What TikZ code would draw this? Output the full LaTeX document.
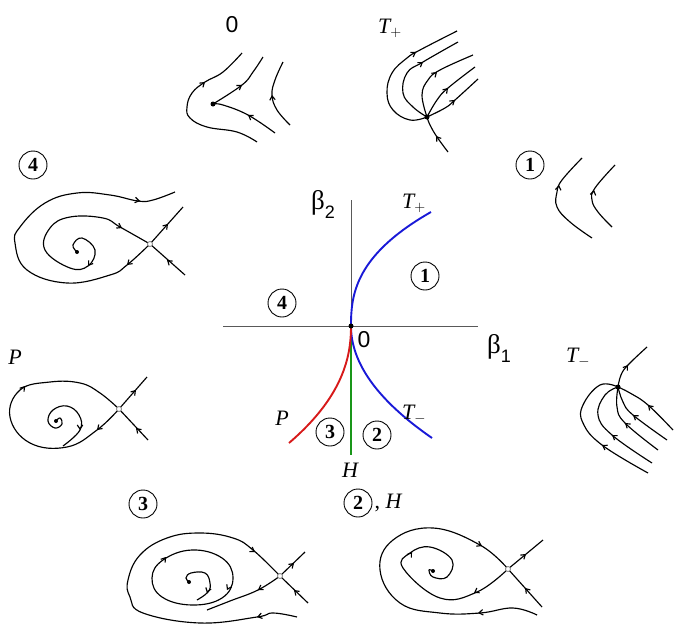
\documentclass[tikz,border=0pt]{standalone}
\usepackage{fontspec}
\setmainfont{Liberation Serif}
\newfontfamily\labfont{Liberation Sans}
\usetikzlibrary{arrows.meta, calc}

\definecolor{tblue}{RGB}{25,25,215}
\definecolor{pred}{RGB}{215,25,25}
\definecolor{hgreen}{RGB}{25,150,25}

% arrow tip at #1, coming from the direction of #2
\newcommand{\tipat}[2]{\draw[orbit, ->] ($(#1)!0.8pt!(#2)$) -- (#1);}
\newcommand{\betasub}[1]{β\raisebox{-9pt}{\labfont\fontsize{18}{18}\selectfont #1}}

\begin{document}
\begin{tikzpicture}[
        x=1pt, y=-1pt, tension=0.7,
        >={Straight Barb[length=4pt, width=5.5pt]},
        orbit/.style={line width=1.15pt, line join=round},
        dot/.style={circle, fill=black, inner sep=0pt, minimum size=5pt},
        saddle/.style={circle, draw=gray, fill=white, line width=0.8pt, inner sep=0pt, minimum size=5pt},
        axis/.style={draw=gray!70!black, line width=1pt},
        curve/.style={line width=1.9pt},
        region/.style={circle, draw, line width=0.9pt, inner sep=0pt, minimum size=28pt, font=\fontsize{20}{20}\selectfont\bfseries},
        lbl/.style={font=\fontsize{22}{22}\selectfont\itshape, inner sep=0pt},
        num/.style={font=\fontsize{23}{23}\selectfont\labfont, inner sep=0pt},
        greek/.style={font=\fontsize{27}{27}\selectfont, inner sep=0pt}
    ]
        \useasboundingbox (0,0) rectangle (675,627);

        % parameter plane
        \draw[axis] (223,326) -- (478,326);
        \draw[axis] (351,200) -- (351,326);
        \draw[hgreen, line width=1.2pt] (351,326) -- (351,455);
        \draw[tblue, curve] plot[domain=0:114, samples=40, variable=\t] ({351+80*(\t/114)^2.5}, {326-\t});
        \draw[tblue, curve] plot[domain=0:112, samples=40, variable=\t] ({351+81*(\t/112)^2}, {326+\t});
        \draw[pred, curve] plot[domain=0:117, samples=40, variable=\t] ({351-62*(\t/117)^2.2}, {326+\t});
        \node[dot] (origin) at (351,326) {};
        \node[greek] (b2) at (323,204) {\betasub{2}};
        \node[greek] (b1) at (499,348) {\betasub{1}};
        \node[num] (zero) at (364,340) {0};
        \node[lbl] (tp) at (414,203) {T$_+$};
        \node[lbl] (tm) at (414,414) {T$_-$};
        \node[lbl] (pl) at (282,418) {P};
        \node[lbl] (hl) at (350,470) {H};
        \node[region] (c1) at (425,276) {1};
        \node[region] (c4) at (282,303) {4};
        \node[region] (c3) at (330,432) {3};
        \node[region] (c2) at (377,435) {2};

        % portrait 0
        \node[num] (lab0) at (232,25) {0};
        \coordinate (n0) at (213,104);
        \draw[orbit] plot[smooth] coordinates {(257,142) (237,132) (207,127) (190,118) (187,107) (192,93) (205,82) (223,72) (242,53)};
        \draw[orbit] plot[smooth] coordinates {(n0) (242,85) (253,72) (263,57)};
        \draw[orbit] plot[smooth] coordinates {(275,133) (248,115) (223,105) (n0)};
        \draw[orbit] plot[smooth] coordinates {(290,125) (277,110) (272,95) (275,80) (283,62)};
        \tipat{205,82}{192,93}
        \tipat{242,85}{230,93}
        \tipat{248,115}{275,133}
        \tipat{272,95}{273,105}
        \node[dot] (d0) at (n0) {};

        % portrait T+
        \node[lbl] (labtp) at (390,28) {T$_+$};
        \coordinate (ntp) at (427,117);
        \draw[orbit] plot[smooth] coordinates {(ntp) (410,120) (393,110) (387,93) (392,73) (407,58) (420,50) (457,31)};
        \draw[orbit] plot[smooth] coordinates {(ntp) (413,107) (403,93) (407,73) (423,62) (458,42)};
        \draw[orbit] plot[smooth] coordinates {(ntp) (422,95) (428,80) (440,70) (473,55)};
        \draw[orbit] plot[smooth] coordinates {(ntp) (437,100) (448,88) (475,67)};
        \draw[orbit] plot[smooth] coordinates {(ntp) (445,108) (455,100) (478,79)};
        \draw[orbit] plot[smooth] coordinates {(448,152) (437,137) (430,125) (ntp)};
        \tipat{416,52}{405,59}
        \tipat{423,62}{407,73}
        \tipat{437,72}{428,80}
        \tipat{448,88}{437,100}
        \tipat{455,100}{445,108}
        \tipat{436,136}{448,152}
        \node[dot] (dtp) at (ntp) {};

        % portrait 1
        \node[region] (lab1) at (530,165) {1};
        \draw[orbit] plot[smooth] coordinates {(592,238) (570,222) (557,207) (557,192) (562,180) (582,158)};
        \draw[orbit] plot[smooth] coordinates {(612,227) (598,212) (592,200) (595,188) (615,165)};
        \tipat{559,185}{557,198}
        \tipat{594,190}{592,200}

        % portrait 4
        \node[region] (lab4) at (33,165) {4};
        \coordinate (s4) at (150,244);
        \draw[orbit] (185,275) -- (s4);
        \draw[orbit] (s4) -- (183,207);
        \draw[orbit] plot[smooth] coordinates {(s4) (127,265) (110,275) (67,283) (27,270) (15,243) (20,227) (45,203) (77,193) (110,195) (138,201) (153,200) (175,192)};
        \draw[orbit] plot[smooth] coordinates {(77,252) (73,245) (82,238) (95,250) (88,266) (70,268) (45,250) (50,228) (70,217) (103,218) (120,227) (s4)};
        \tipat{167,260}{185,275}
        \tipat{168,224}{150,244}
        \tipat{127,265}{150,244}
        \tipat{140,201}{110,195}
        \tipat{88,266}{93,259}
        \tipat{122,228}{103,218}
        \node[dot, minimum size=4pt] (f4) at (77,252) {};
        \node[saddle] (ds4) at (s4) {};

        % portrait P
        \node[lbl] (labp) at (15,357) {P};
        \coordinate (sp) at (119,409);
        \draw[orbit] (sp) -- (147,377);
        \draw[orbit] (148,440) -- (sp);
        \draw[orbit] plot[smooth] coordinates {(sp) (97,430) (67,447) (30,443) (10,417) (20,390) (50,382) (80,383) (100,393) (sp)};
        \draw[orbit] plot[smooth] coordinates {(56,421) (60,418) (62,424) (55,428) (48,421) (53,410) (67,406) (79,415) (80,430) (63,446)};
        \tipat{136,390}{119,409}
        \tipat{136,428}{148,440}
        \tipat{97,430}{119,409}
        \tipat{25,386}{14,400}
        \tipat{80,430}{80,418}
        \node[dot, minimum size=4pt] (fp) at (56,421) {};
        \node[saddle] (dsp) at (sp) {};

        % portrait T-
        \node[lbl] (labtm) at (578,357) {T$_-$};
        \coordinate (ntm) at (618,387);
        \draw[orbit] plot[smooth] coordinates {(ntm) (621,375) (628,365) (647,347)};
        \draw[orbit] plot[smooth] coordinates {(673,430) (648,405) (630,393) (ntm)};
        \draw[orbit] plot[smooth] coordinates {(667,440) (633,415) (623,402) (ntm)};
        \draw[orbit] plot[smooth] coordinates {(658,450) (625,423) (617,407) (ntm)};
        \draw[orbit] plot[smooth] coordinates {(652,463) (612,435) (598,415) (605,395) (ntm)};
        \draw[orbit] plot[smooth] coordinates {(648,473) (602,445) (583,423) (583,405) (600,385) (ntm)};
        \tipat{628,365}{621,375}
        \tipat{648,405}{673,430}
        \tipat{633,415}{667,440}
        \tipat{625,423}{658,450}
        \tipat{612,435}{652,463}
        \tipat{602,445}{648,473}
        \node[dot] (dtm) at (ntm) {};

        % portrait 3
        \node[region] (lab3) at (143,504) {3};
        \coordinate (s3) at (280,576);
        \draw[orbit] (s3) -- (305,552);
        \draw[orbit] (308,603) -- (s3);
        \draw[orbit] plot[smooth] coordinates {(297,617) (273,613) (257,617) (200,623) (143,613) (130,597) (128,580) (140,555) (167,538) (200,533) (233,538) (253,550) (s3)};
        \draw[orbit] plot[smooth] coordinates {(s3) (258,590) (230,601) (207,610)};
        \draw[orbit] plot[smooth cycle] coordinates {(152,578) (163,560) (192,550) (222,558) (233,578) (222,598) (192,605) (162,597)};
        \draw[orbit] plot[smooth] coordinates {(189,582) (186,578) (191,573) (205,573) (210,583) (208,592) (197,600)};
        \tipat{294,563}{280,576}
        \tipat{294,590}{308,603}
        \tipat{257,617}{273,613}
        \tipat{255,552}{233,538}
        \tipat{258,590}{280,576}
        \tipat{166,557}{152,575}
        \tipat{227,590}{233,578}
        \tipat{207,593}{210,583}
        \node[dot, minimum size=4pt] (f3) at (189,582) {};
        \node[saddle] (ds3) at (s3) {};

        % portrait 2, H
        \node[region] (lab2) at (358,503) {2};
        \node[lbl, anchor=west] (labh) at ([xshift=2pt]lab2.east) {{\upshape,} H};
        \coordinate (s2) at (508,569);
        \draw[orbit] (s2) -- (543,540);
        \draw[orbit] (542,607) -- (s2);
        \draw[orbit] plot[smooth] coordinates {(537,615) (513,608) (480,613) (440,613) (400,603) (380,570) (393,540) (433,528) (480,545) (s2)};
        \draw[orbit] plot[smooth] coordinates {(s2) (477,592) (440,598) (403,568) (410,553) (430,547) (452,560) (447,577) (433,577) (429,570) (433,571)};
        \tipat{526,554}{508,569}
        \tipat{525,588}{542,607}
        \tipat{478,613}{513,608}
        \tipat{482,546}{460,535}
        \tipat{474,593}{495,580}
        \tipat{412,552}{403,565}
        \node[dot, minimum size=4pt] (f2) at (433,571) {};
        \node[saddle] (ds2) at (s2) {};
    \end{tikzpicture}
\end{document}
